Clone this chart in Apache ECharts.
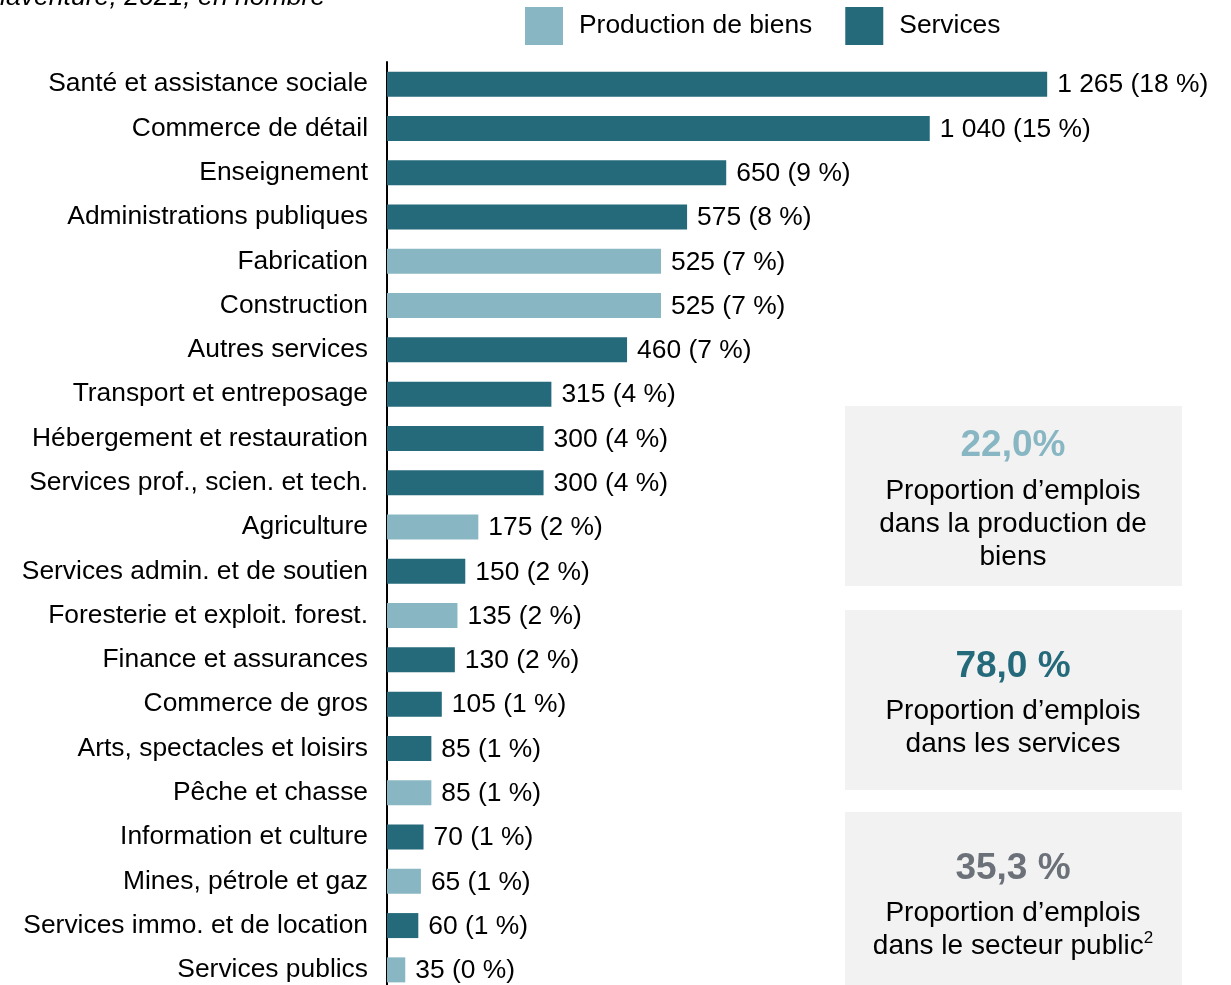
<!DOCTYPE html>
<html><head><meta charset="utf-8">
<script src="https://cdn.jsdelivr.net/npm/echarts@6/dist/echarts.min.js"></script>
<style>html,body{margin:0;padding:0;background:#fff}#c{width:1231px;height:985px}</style>
</head><body><div id="c"></div>
<script>
const categories = ["Santé et assistance sociale","Commerce de détail","Enseignement","Administrations publiques","Fabrication","Construction","Autres services","Transport et entreposage","Hébergement et restauration","Services prof., scien. et tech.","Agriculture","Services admin. et de soutien","Foresterie et exploit. forest.","Finance et assurances","Commerce de gros","Arts, spectacles et loisirs","Pêche et chasse","Information et culture","Mines, pétrole et gaz","Services immo. et de location","Services publics"];
const values = [1265,1040,650,575,525,525,460,315,300,300,175,150,135,130,105,85,85,70,65,60,35];
const percents = [18,15,9,8,7,7,7,4,4,4,2,2,2,2,1,1,1,1,1,1,0];
const sectors = ["S","S","S","S","P","P","S","S","S","S","P","S","P","S","S","S","P","S","P","S","P"];
const seriesNames = ["Production de biens","Services"];
const colors = {P:"#88b7c3", S:"#246a7b"};
const boxes = [
  {big:"22,0%", color:"#88b7c3", lines:["Proportion d’emplois","dans la production de","biens"]},
  {big:"78,0 %", color:"#246a7b", lines:["Proportion d’emplois","dans les services"]},
  {big:"35,3 %", color:"#6b7079", lines:["Proportion d’emplois","dans le secteur public"], sup:"2"}
];
const FONT = "'Liberation Sans', Arial, sans-serif";
const FS = 26.4;
function fmt(n){ return String(n).replace(/\B(?=(\d{3})+(?!\d))/g, " "); }
const prodData = values.map((v,i)=> sectors[i]==="P" ? v : '-');
const servData = values.map((v,i)=> sectors[i]==="S" ? v : '-');
const labelFn = p => fmt(values[p.dataIndex]) + " (" + percents[p.dataIndex] + " %)";

const boxGeo = [{y:406,h:180,bigY:446,lineY:491},{y:610,h:180,bigY:667,lineY:711},{y:812,h:185,bigY:869,lineY:913}];
const graphics = [{
  type:'text', left:0, top:-16, style:{text:"laventure, 2021, en nombre", font:"italic 26.6px "+FONT, fill:"#000"}
}];
boxes.forEach((b,i)=>{
  const g = boxGeo[i];
  graphics.push({type:'rect', shape:{x:845,y:g.y,width:337,height:g.h}, style:{fill:"#f2f2f2"}, z:0});
  graphics.push({type:'text', x:1013, y:g.bigY, style:{text:b.big, font:"bold 37px "+FONT, fill:b.color, align:'center', verticalAlign:'middle'}});
  b.lines.forEach((ln,j)=>{
    const last = j===b.lines.length-1 && b.sup;
    graphics.push({type:'text', x:1013, y:g.lineY + j*33, style: last ? {
      text:"{a|"+ln+"}{s|"+b.sup+"}", align:'center', verticalAlign:'middle',
      rich:{a:{font:"28px "+FONT, fill:"#000", lineHeight:33}, s:{font:"17px "+FONT, fill:"#000", verticalAlign:'top', lineHeight:33, padding:[0,0,12,0]}}
    } : {text:ln, font:"28px "+FONT, fill:"#000", align:'center', verticalAlign:'middle'}});
  });
});

const chart = echarts.init(document.getElementById('c'), null, {renderer:'canvas'});
chart.setOption({
  animation:false,
  textStyle:{fontFamily:FONT},
  legend:{left:520, top:2, itemWidth:38, itemHeight:38, itemGap:33, icon:'rect',
    textStyle:{fontSize:FS, color:'#000', fontFamily:FONT, padding:[0,0,0,11]},
    data:seriesNames},
  grid:{left:387, top:62, width:835, height:930, containLabel:false, outerBoundsMode:'none'},
  xAxis:{type:'value', min:0, max:1600, show:false},
  yAxis:{type:'category', inverse:true, data:categories,
    axisLine:{lineStyle:{color:'#000', width:2}}, axisTick:{show:false},
    axisLabel:{fontSize:FS, color:'#000', margin:19, fontFamily:FONT, padding:[3,0,0,0]}},
  series:[
    {name:seriesNames[0], type:'bar', stack:'t', data:prodData, barWidth:25, itemStyle:{color:colors.P},
      label:{show:true, position:'right', distance:10, offset:[0,1], fontSize:FS, color:'#000', fontFamily:FONT, formatter:labelFn}},
    {name:seriesNames[1], type:'bar', stack:'t', data:servData, barWidth:25, itemStyle:{color:colors.S},
      label:{show:true, position:'right', distance:10, offset:[0,1], fontSize:FS, color:'#000', fontFamily:FONT, formatter:labelFn}}
  ],
  graphic:graphics
});
</script></body></html>
